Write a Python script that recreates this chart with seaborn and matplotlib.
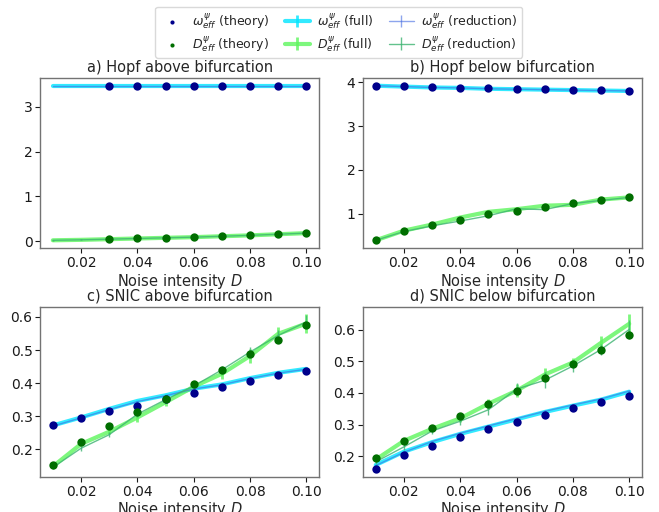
import numpy as np
import matplotlib
matplotlib.use("Agg")
import matplotlib.pyplot as plt
from matplotlib.ticker import MultipleLocator
import seaborn as sns
import pandas as pd

sns.set_style("white", {"axes.edgecolor": "0.45", "xtick.bottom": True, "ytick.left": True})
plt.rcParams['font.family'] = ['DejaVu Sans']

D = [0.01, 0.02, 0.03, 0.04, 0.05, 0.06, 0.07, 0.08, 0.09, 0.10]
D_theory_a = [0.03, 0.04, 0.05, 0.06, 0.07, 0.08, 0.09, 0.10]

# a) Hopf above bifurcation
a_w_theory = [3.47, 3.47, 3.47, 3.47, 3.47, 3.47, 3.47, 3.47]
a_d_theory = [0.045, 0.06, 0.075, 0.09, 0.11, 0.13, 0.155, 0.18]
a_w_full = [3.47, 3.47, 3.47, 3.47, 3.47, 3.47, 3.47, 3.47, 3.47, 3.47]
a_d_full = [0.02, 0.03, 0.045, 0.06, 0.075, 0.09, 0.11, 0.13, 0.155, 0.18]
a_w_red = [3.47, 3.47, 3.47, 3.47, 3.47, 3.47, 3.47, 3.47, 3.47, 3.47]
a_d_red = [0.02, 0.03, 0.045, 0.06, 0.075, 0.09, 0.11, 0.13, 0.155, 0.18]

# b) Hopf below bifurcation
b_w_theory = [3.92, 3.91, 3.885, 3.87, 3.86, 3.84, 3.84, 3.83, 3.82, 3.81]
b_d_theory = [0.39, 0.60, 0.74, 0.86, 0.98, 1.07, 1.16, 1.24, 1.31, 1.38]
b_w_full = [3.92, 3.90, 3.88, 3.87, 3.85, 3.84, 3.83, 3.82, 3.81, 3.80]
b_d_full = [0.39, 0.61, 0.75, 0.91, 1.04, 1.10, 1.18, 1.20, 1.32, 1.37]
b_w_red = [3.92, 3.90, 3.88, 3.87, 3.85, 3.84, 3.83, 3.82, 3.81, 3.80]
b_d_red = [0.39, 0.59, 0.72, 0.83, 0.95, 1.11, 1.09, 1.23, 1.30, 1.37]

# c) SNIC above bifurcation
c_w_theory = [0.273, 0.294, 0.315, 0.332, 0.351, 0.369, 0.387, 0.407, 0.424, 0.438]
c_d_theory = [0.151, 0.221, 0.271, 0.314, 0.352, 0.398, 0.441, 0.487, 0.529, 0.575]
c_w_full = [0.272, 0.296, 0.322, 0.346, 0.363, 0.383, 0.396, 0.415, 0.431, 0.443]
c_d_full = [0.148, 0.216, 0.253, 0.296, 0.342, 0.389, 0.428, 0.482, 0.549, 0.580]
c_d_full_err = [0.005, 0.006, 0.008, 0.015, 0.010, 0.010, 0.015, 0.020, 0.020, 0.028]
c_w_red = [0.270, 0.295, 0.320, 0.344, 0.362, 0.382, 0.395, 0.414, 0.430, 0.442]
c_d_red = [0.145, 0.203, 0.244, 0.306, 0.350, 0.391, 0.440, 0.494, 0.544, 0.585]
c_d_red_err = [0.006, 0.008, 0.008, 0.010, 0.010, 0.010, 0.012, 0.015, 0.015, 0.020]

# d) SNIC below bifurcation
d_w_theory = [0.159, 0.203, 0.234, 0.260, 0.285, 0.307, 0.330, 0.353, 0.372, 0.391]
d_d_theory = [0.194, 0.248, 0.289, 0.326, 0.366, 0.405, 0.448, 0.492, 0.536, 0.582]
d_w_full = [0.173, 0.215, 0.245, 0.271, 0.294, 0.317, 0.340, 0.360, 0.379, 0.404]
d_d_full = [0.190, 0.249, 0.287, 0.320, 0.366, 0.407, 0.458, 0.496, 0.558, 0.618]
d_d_full_err = [0.005, 0.008, 0.008, 0.010, 0.015, 0.020, 0.020, 0.015, 0.022, 0.030]
d_w_red = [0.171, 0.213, 0.247, 0.273, 0.296, 0.319, 0.342, 0.362, 0.381, 0.406]
d_d_red = [0.183, 0.230, 0.280, 0.311, 0.347, 0.412, 0.440, 0.485, 0.537, 0.600]
d_d_red_err = [0.006, 0.010, 0.010, 0.012, 0.015, 0.020, 0.025, 0.020, 0.018, 0.030]

titles = ["a) Hopf above bifurcation", "b) Hopf below bifurcation",
          "c) SNIC above bifurcation", "d) SNIC below bifurcation"]

panels = [
    (D_theory_a, a_w_theory, a_d_theory, a_w_full, a_d_full, None, a_w_red, a_d_red, None),
    (D, b_w_theory, b_d_theory, b_w_full, b_d_full, None, b_w_red, b_d_red, None),
    (D, c_w_theory, c_d_theory, c_w_full, c_d_full, c_d_full_err, c_w_red, c_d_red, c_d_red_err),
    (D, d_w_theory, d_d_theory, d_w_full, d_d_full, d_d_full_err, d_w_red, d_d_red, d_d_red_err),
]

C_WT = "#00008b"
C_DT = "#006e00"
C_WF = "#00e5ff"
C_DF = "#5cf55c"
C_WR = "#4169e1"
C_DR = "#3cb371"

fig, axes = plt.subplots(2, 2, figsize=(6.59, 5.12), dpi=100)
fig.subplots_adjust(left=0.061, right=0.974, bottom=0.068, top=0.848, wspace=0.158, hspace=0.34)

FS = 10.5
handles = None
for ax, title, p in zip(axes.flat, titles, panels):
    xt, wt, dt, wf, df, dfe, wr, dr, dre = p
    wfe = [0.003] * len(D)
    dfe = dfe if dfe is not None else [0.01] * len(D)
    wre = [0.003] * len(D)
    dre = dre if dre is not None else [0.01] * len(D)
    ax.errorbar(D, wf, yerr=wfe, color=C_WF, lw=3, alpha=0.8, elinewidth=2, label=r"$\omega_{eff}^{\psi}$ (full)", zorder=2)
    ax.errorbar(D, df, yerr=dfe, color=C_DF, lw=3, alpha=0.8, elinewidth=2, label=r"$D_{eff}^{\psi}$ (full)", zorder=2)
    ax.errorbar(D, wr, yerr=wre, color=C_WR, lw=1, alpha=0.6, elinewidth=1, label=r"$\omega_{eff}^{\psi}$ (reduction)", zorder=3)
    ax.errorbar(D, dr, yerr=dre, color=C_DR, lw=1, alpha=0.8, elinewidth=1, label=r"$D_{eff}^{\psi}$ (reduction)", zorder=3)
    df_t = pd.DataFrame({"D": xt, "w": wt, "d": dt})
    sns.scatterplot(data=df_t, x="D", y="w", ax=ax, color=C_WT, s=36, edgecolor=C_WT, linewidth=0, zorder=4,
                    label=r"$\omega_{eff}^{\psi}$ (theory)")
    sns.scatterplot(data=df_t, x="D", y="d", ax=ax, color=C_DT, s=36, edgecolor=C_DT, linewidth=0, zorder=4,
                    label=r"$D_{eff}^{\psi}$ (theory)")
    ax.set_title(title, fontsize=FS, pad=4)
    ax.set_xlabel(r"Noise intensity $D$", fontsize=FS, labelpad=1)
    ax.set_ylabel("")
    ax.set_xticks([0.02, 0.04, 0.06, 0.08, 0.10])
    ax.set_xticklabels(["0.02", "0.04", "0.06", "0.08", "0.10"])
    ax.tick_params(labelsize=10, length=3.5, width=0.8, colors="0.1", pad=2)
    for s in ax.spines.values():
        s.set_linewidth(1.0)
    leg = ax.get_legend()
    if leg is not None:
        leg.remove()
    if handles is None:
        hs, ls = ax.get_legend_handles_labels()
        handles = (hs, ls)

hs, ls = handles
order = [r"$\omega_{eff}^{\psi}$ (theory)", r"$D_{eff}^{\psi}$ (theory)",
         r"$\omega_{eff}^{\psi}$ (full)", r"$D_{eff}^{\psi}$ (full)",
         r"$\omega_{eff}^{\psi}$ (reduction)", r"$D_{eff}^{\psi}$ (reduction)"]
hd = dict(zip(ls, hs))
fig.legend([hd[l] for l in order], order, loc="upper center", bbox_to_anchor=(0.514, 0.992), ncol=3,
           fontsize=9, frameon=True, handlelength=2, columnspacing=1.2, handletextpad=0.6,
           labelspacing=0.25, markerscale=0.5, borderaxespad=0.2, borderpad=0.35,
           framealpha=1, edgecolor="0.85")

axes[0, 0].set_yticks([0, 1, 2, 3])
axes[0, 1].set_yticks([1, 2, 3, 4])
axes[1, 0].yaxis.set_major_locator(MultipleLocator(0.1))
axes[1, 1].yaxis.set_major_locator(MultipleLocator(0.1))

fig.savefig("out.png", dpi=100)
